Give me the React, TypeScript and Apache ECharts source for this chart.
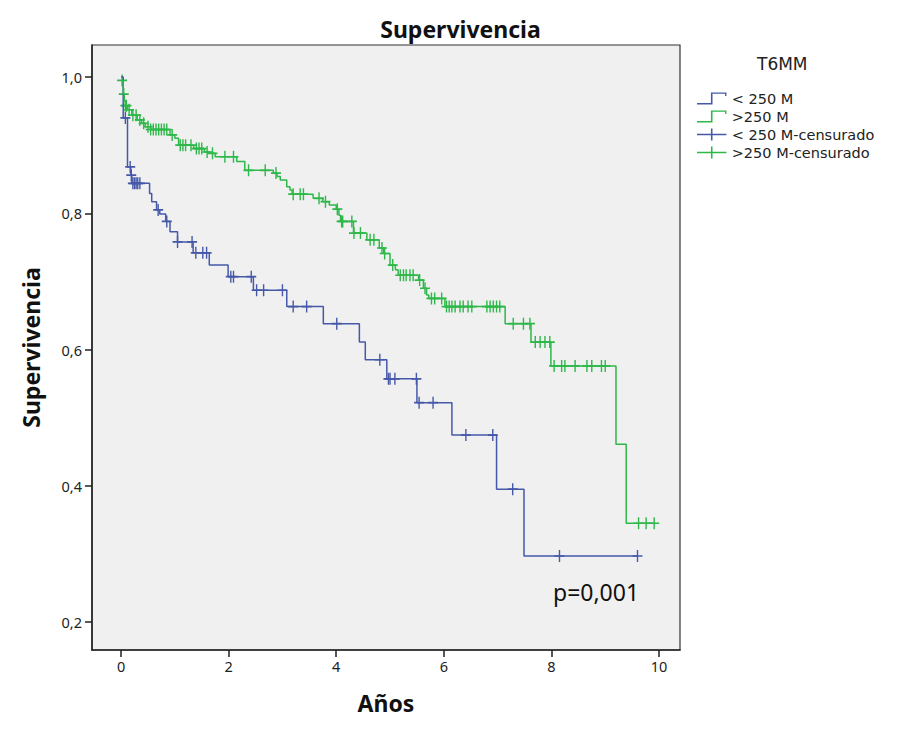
import React, { useEffect, useRef } from 'react';
import * as echarts from 'echarts';

// Kaplan-Meier steps: [years, survival after the event]
const lowSteps: [number, number][] = [
  [0, 1.0], [0.04, 0.94], [0.12, 0.868], [0.18, 0.856], [0.2, 0.844], [0.53, 0.829],
  [0.57, 0.817], [0.66, 0.805], [0.72, 0.799], [0.83, 0.788], [0.91, 0.773], [1.05, 0.758],
  [1.34, 0.742], [1.64, 0.724], [1.99, 0.707], [2.46, 0.687], [3.08, 0.663], [3.76, 0.638],
  [4.43, 0.611], [4.54, 0.585], [4.94, 0.557], [5.5, 0.522], [6.15, 0.4745], [6.98, 0.395],
  [7.49, 0.297],
];
const highSteps: [number, number][] = [
  [0, 0.995], [0.04, 0.975], [0.06, 0.965], [0.08, 0.958], [0.12, 0.952], [0.2, 0.944],
  [0.3, 0.937], [0.38, 0.932], [0.45, 0.927], [0.55, 0.923], [0.91, 0.915], [1.0, 0.91],
  [1.07, 0.9], [1.35, 0.895], [1.55, 0.89], [1.65, 0.888], [1.75, 0.883], [2.15, 0.876],
  [2.3, 0.863], [2.83, 0.859], [2.9, 0.854], [2.96, 0.849], [3.08, 0.839], [3.14, 0.834],
  [3.18, 0.828], [3.57, 0.822], [3.75, 0.817], [3.87, 0.812], [4.0, 0.806], [4.05, 0.797],
  [4.08, 0.788], [4.32, 0.771], [4.57, 0.761], [4.8, 0.749], [4.88, 0.741], [5.0, 0.724],
  [5.1, 0.717], [5.15, 0.709], [5.53, 0.702], [5.62, 0.69], [5.68, 0.68], [5.72, 0.675],
  [6.02, 0.663], [7.14, 0.638], [7.62, 0.611], [7.99, 0.576], [9.2, 0.461], [9.39, 0.345],
];

// censored times (years)
const lowCensored = [
  0.08, 0.17, 0.19, 0.22, 0.25, 0.28, 0.31, 0.35, 0.69, 0.85, 1.05, 1.32, 1.39, 1.52, 1.59,
  2.04, 2.09, 2.42, 2.52, 2.65, 3.0, 3.2, 3.45, 4.01, 4.81, 4.97, 5.0, 5.09, 5.49, 5.54, 5.8,
  6.41, 6.91, 7.28, 8.15, 9.6,
];
const highCensored = [
  0.02, 0.05, 0.08, 0.1, 0.15, 0.22, 0.28, 0.35, 0.42, 0.5, 0.55, 0.6, 0.65, 0.7, 0.75, 0.8,
  0.85, 0.95, 1.1, 1.15, 1.2, 1.3, 1.4, 1.45, 1.5, 1.6, 1.7, 1.93, 2.09, 2.37, 2.68, 2.88,
  3.2, 3.33, 3.39, 3.68, 3.8, 4.02, 4.1, 4.12, 4.29, 4.33, 4.45, 4.63, 4.7, 4.85, 4.9, 5.05,
  5.19, 5.25, 5.3, 5.37, 5.43, 5.55, 5.65, 5.77, 5.83, 5.96, 6.05, 6.1, 6.15, 6.21, 6.3,
  6.36, 6.45, 6.52, 6.8, 6.86, 6.92, 6.98, 7.04, 7.29, 7.48, 7.6, 7.7, 7.79, 7.88, 7.97,
  8.05, 8.19, 8.25, 8.44, 8.66, 8.75, 8.93, 9.0, 9.62, 9.76, 9.91,
];

const xTicks = [0, 2, 4, 6, 8, 10];
const yTicks = [0.2, 0.4, 0.6, 0.8, 1.0];
const seriesNames = ['< 250 M', '>250 M', '< 250 M-censurado', '>250 M-censurado'];

const BLUE = '#4659A9';
const GREEN = '#2EB84A';
const FONT = 'Noto Sans';
const LEGEND_FONT = 'DejaVu Sans';

const survAt = (steps: [number, number][], t: number) => {
  let s = steps[0][1];
  for (const [x, y] of steps) if (x <= t) s = y;
  return s;
};
const lineData = (steps: [number, number][], censored: number[]) => {
  const end = censored[censored.length - 1];
  return [...steps, [end, survAt(steps, end)]];
};
const marks = (steps: [number, number][], censored: number[]) =>
  censored.map((t) => [t, survAt(steps, t)]);

const CROSS = 'path://M4.3,0H5.7V4.3H10V5.7H5.7V10H4.3V5.7H0V4.3H4.3Z';
const STEP_ICON = 'path://M0,9.2H12.3V0H26V3H24.8V1.2H13.7V10.6H0Z';
const CROSS_ICON = 'path://M12.3,0H13.7V4.6H26V6H13.7V10.6H12.3V6H0V4.6H12.3Z';

export default function KaplanMeierChart() {
  const ref = useRef<HTMLDivElement>(null);
  useEffect(() => {
    if (!ref.current) return;
    const chart = echarts.init(ref.current, undefined, { renderer: 'svg' });
    const nameStyle = { fontFamily: FONT, fontSize: 23, fontWeight: 'bold', color: '#111' };
    chart.setOption({
      animation: false,
      backgroundColor: '#fff',
      textStyle: { fontFamily: FONT },
      title: { text: 'Supervivencia', left: 'center', top: 12, textStyle: nameStyle },
      grid: {
        left: 92, right: 241, top: 45, bottom: 87, show: true,
        backgroundColor: '#F0F0F0', borderColor: '#333', borderWidth: 1.2,
      },
      legend: {
        orient: 'vertical', left: 692, top: 86, itemGap: 3, itemWidth: 30, itemHeight: 12,
        textStyle: { fontFamily: LEGEND_FONT, fontSize: 14.5, lineHeight: 15, color: '#222' },
        data: [
          { name: seriesNames[0], icon: STEP_ICON, itemStyle: { color: BLUE } },
          { name: seriesNames[1], icon: STEP_ICON, itemStyle: { color: GREEN } },
          { name: seriesNames[2], icon: CROSS_ICON, itemStyle: { color: BLUE } },
          { name: seriesNames[3], icon: CROSS_ICON, itemStyle: { color: GREEN } },
        ],
        selectedMode: false,
      },
      graphic: [
        { type: 'text', left: 757, top: 55, style: { text: 'T6MM', font: `17px "${LEGEND_FONT}"`, fill: '#222' } },
        { type: 'text', left: 553, top: 580, style: { text: 'p=0,001', font: `23px "${FONT}"`, fill: '#111' } },
      ],
      xAxis: {
        type: 'value', min: -0.54, max: 10.39,
        name: 'Años', nameLocation: 'middle', nameGap: 41, nameTextStyle: nameStyle,
        axisLine: { onZero: false, lineStyle: { color: '#222', width: 1.5 } },
        axisTick: { customValues: xTicks, length: 7, lineStyle: { color: '#222', width: 1.5 } },
        axisLabel: { customValues: xTicks, color: '#222', fontSize: 14.5, margin: 8 },
        splitLine: { show: false },
      },
      yAxis: {
        type: 'value', min: 0.159, max: 1.047,
        name: 'Supervivencia', nameLocation: 'middle', nameGap: 50, nameTextStyle: nameStyle,
        axisLine: { show: true, onZero: false, lineStyle: { color: '#222', width: 1.5 } },
        axisTick: { show: true, customValues: yTicks, length: 7, lineStyle: { color: '#222', width: 1.5 } },
        axisLabel: {
          customValues: yTicks, color: '#222', fontSize: 14.5, margin: 10,
          formatter: (v: number) => v.toFixed(1).replace('.', ','),
        },
        splitLine: { show: false },
      },
      series: [
        {
          name: seriesNames[0], type: 'line', step: 'end', showSymbol: false,
          data: lineData(lowSteps, lowCensored), lineStyle: { color: BLUE, width: 1.5 },
          itemStyle: { color: BLUE },
        },
        {
          name: seriesNames[1], type: 'line', step: 'end', showSymbol: false,
          data: lineData(highSteps, highCensored), lineStyle: { color: GREEN, width: 1.5 },
          itemStyle: { color: GREEN },
        },
        {
          name: seriesNames[2], type: 'scatter', symbol: CROSS, symbolSize: [10, 12],
          data: marks(lowSteps, lowCensored), itemStyle: { color: BLUE, opacity: 1 },
        },
        {
          name: seriesNames[3], type: 'scatter', symbol: CROSS, symbolSize: [10, 12],
          data: marks(highSteps, highCensored), itemStyle: { color: GREEN, opacity: 1 },
        },
      ],
    });
    return () => chart.dispose();
  }, []);
  return <div ref={ref} style={{ position: 'fixed', left: 0, top: 0, width: 921, height: 737 }} />;
}
